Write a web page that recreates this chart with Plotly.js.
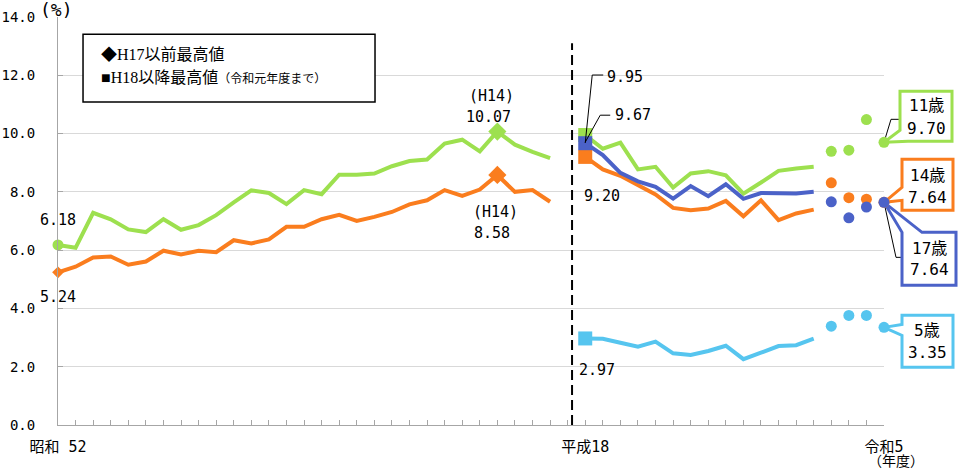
<!DOCTYPE html>
<html><head><meta charset="utf-8">
<script src="https://cdn.plot.ly/plotly-3.0.1.min.js"></script>
<style>html,body{margin:0;padding:0;background:#fff}#chart{width:960px;height:470px}</style>
</head><body><div id="chart"></div>
<script>
// ---------- data ----------
const preYears = [1977,1978,1979,1980,1981,1982,1983,1984,1985,1986,1987,1988,1989,1990,1991,1992,1993,1994,1995,1996,1997,1998,1999,2000,2001,2002,2003,2004,2005];
const age11Pre = [6.18,6.08,7.28,7.06,6.71,6.62,7.06,6.70,6.86,7.20,7.64,8.05,7.96,7.58,8.06,7.92,8.59,8.59,8.63,8.88,9.06,9.11,9.66,9.79,9.39,10.07,9.62,9.37,9.16];
const age14Pre = [5.24,5.43,5.75,5.78,5.50,5.61,5.98,5.85,5.98,5.93,6.34,6.23,6.37,6.80,6.80,7.06,7.21,7.00,7.14,7.31,7.57,7.71,8.06,7.86,8.08,8.58,8.00,8.06,7.66];

const postYears = [2006,2007,2008,2009,2010,2011,2012,2013,2014,2015,2016,2017,2018,2019,2020,2021,2022,2023];
const age11Post = [9.95,9.48,9.69,8.77,8.86,8.15,8.63,8.71,8.57,7.94,8.32,8.72,8.80,8.86,9.39,9.43,10.48,9.70];
const age14Post = [9.20,8.77,8.55,8.23,7.91,7.45,7.37,7.43,7.69,7.16,7.71,7.03,7.26,7.39,8.31,7.80,7.75,7.64];
const age17Post = [9.67,9.26,8.65,8.36,8.17,7.77,8.20,7.85,8.26,7.76,7.96,7.96,7.94,8.00,7.66,7.11,7.48,7.64];
const age5Post  = [2.97,2.96,2.82,2.69,2.86,2.46,2.40,2.54,2.72,2.26,2.48,2.71,2.74,2.96,3.39,3.76,3.76,3.35];

const lastLineYear = 2019;             // lines drawn up to 令和元年度
const tickYears  = [1977, 2006, 2023];
const tickLabels = ['昭和 52', '平成18', '令和5'];
const ageNames = ['11歳', '14歳', '17歳', '5歳'];

// ---------- style ----------
const GREEN = '#9de04f', ORANGE = '#fa7d1e', BLUE = '#4b62c8', LBLUE = '#56c5ef';
const MONO = 'DejaVu Sans Mono, Noto Sans CJK JP, sans-serif';
const SERIF = 'Liberation Serif, Noto Sans CJK JP, serif';
const YMAX = 14;

// category position (one empty slot between 2005 and 2006)
function pos(y){ return y <= 2005 ? y - 1977 : y - 1976; }
const prePos = preYears.map(pos);
const postPos = postYears.map(pos);
const nLine = postYears.filter(y => y <= lastLineYear).length;
const XMAX = pos(postYears[postYears.length - 1]);

const traces = [];
function line(x, y, c){ traces.push({x, y, mode:'lines', line:{color:c, width:4}, hoverinfo:'skip'}); }
function marks(x, y, c, sym, size){ traces.push({x, y, mode:'markers', marker:{color:c, symbol:sym, size, line:{width:0}}, cliponaxis:false, hoverinfo:'skip'}); }

line(prePos, age11Pre, GREEN);
line(prePos, age14Pre, ORANGE);
const postSeries = [[age11Post, GREEN],[age14Post, ORANGE],[age17Post, BLUE],[age5Post, LBLUE]];
postSeries.forEach(([v,c]) => line(postPos.slice(0,nLine), v.slice(0,nLine), c));
postSeries.forEach(([v,c]) => marks(postPos.slice(nLine), v.slice(nLine), c, 'circle', 11));

// start markers
marks([prePos[0]], [age11Pre[0]], GREEN, 'circle', 11);
marks([prePos[0]], [age14Pre[0]], ORANGE, 'diamond', 9);
// pre-H17 peak diamonds
const pk11 = age11Pre.indexOf(Math.max(...age11Pre));
const pk14 = age14Pre.indexOf(Math.max(...age14Pre));
marks([prePos[pk11]], [age11Pre[pk11]], GREEN, 'diamond', 14);
marks([prePos[pk14]], [age14Pre[pk14]], ORANGE, 'diamond', 14);
// post-H18 peak squares (at H18)
postSeries.forEach(([v,c]) => marks([postPos[0]], [v[0]], c, 'square', 14));

// ---------- annotations ----------
const ann = [];
function lab(x, y, text, dx, dy, size){
  ann.push({x, y, xref:'x', yref:'y', text, showarrow:false, xshift:dx, yshift:dy,
    xanchor:'center', yanchor:'middle', font:{family:MONO, size:size||15, color:'#000'}});
}
const f2 = v => v.toFixed(2);
lab(prePos[0], age11Pre[0], f2(age11Pre[0]), 0, 25);
lab(prePos[0], age14Pre[0], f2(age14Pre[0]), 0, -25);
lab(prePos[pk11], age11Pre[pk11], '(H14)', -6, 36, 15);
lab(prePos[pk11], age11Pre[pk11], f2(age11Pre[pk11]), -9, 15);
lab(prePos[pk14], age14Pre[pk14], '(H14)', -2, -37, 15);
lab(prePos[pk14], age14Pre[pk14], f2(age14Pre[pk14]), -5, -58);
lab(postPos[0], age11Post[0], f2(age11Post[0]), 40, 58);
lab(postPos[0], age17Post[0], f2(age17Post[0]), 48, 28);
lab(postPos[0], age14Post[0], f2(age14Post[0]), 17, -39);
lab(postPos[0], age5Post[0], f2(age5Post[0]), 12, -32);

// callouts at the last year
const L = postYears.length - 1, xl = postPos[L];
const callouts = [
  {v:age11Post[L], c:GREEN, name:ageNames[0], path:'M0,0 L16,12 L16,51 L68,51 L68,1 L24,1 Z', t:[42,37], b:[42,14], lead:'M0,0 L7,23 L16,23'},
  {v:age14Post[L], c:ORANGE, name:ageNames[1], path:'M0,0 L18,15 L18,43 L69,43 L69,-8 L18,-8 L18,2 Z', t:[43,27], b:[43,5]},
  {v:age17Post[L], c:BLUE, name:ageNames[2], path:'M0,0 L18,-30 L18,-83 L72,-83 L72,-30 L38,-30 Z', t:[45,-46], b:[45,-67], lead:'M0,0 L12,-55 L18,-55'},
  {v:age5Post[L], c:LBLUE, name:ageNames[3], path:'M0,0 L18,3 L18,12 L69,12 L69,-40 L18,-40 L18,-8 Z', t:[43,-3], b:[43,-25]}
];
const shapes = [];
// vertical dashed divider in the empty slot
shapes.push({type:'line', xref:'x', yref:'y', x0:pos(2005)+1.25, x1:pos(2005)+1.25, y0:0, y1:13.1,
  line:{color:'#000', width:2, dash:'10px,5px'}, layer:'above'});
// legend box
shapes.push({type:'rect', xref:'paper', yref:'paper', x0:0.0303, x1:0.3838, y0:0.7918, y1:0.9576,
  line:{color:'#000', width:1.5}, fillcolor:'#fff', layer:'above'});
// leader lines for H18 labels
shapes.push({type:'path', xref:'x', yref:'y', xsizemode:'pixel', ysizemode:'pixel', xanchor:postPos[0], yanchor:age11Post[0],
  path:'M0,-8 L7,60 L18,60', line:{color:'#000', width:1}, layer:'above'});
shapes.push({type:'path', xref:'x', yref:'y', xsizemode:'pixel', ysizemode:'pixel', xanchor:postPos[0], yanchor:age17Post[0],
  path:'M0,1 L15,28 L25,28', line:{color:'#000', width:1}, layer:'above'});
// callouts (paper-referenced so they are not clipped to the plot area)
callouts.forEach(co => {
  const ax = xl / XMAX, ay = co.v / YMAX;
  if(co.lead) shapes.push({type:'path', xref:'paper', yref:'paper', xsizemode:'pixel', ysizemode:'pixel', xanchor:ax, yanchor:ay,
    path:co.lead, line:{color:'#000', width:1}, layer:'below'});
  shapes.push({type:'path', xref:'paper', yref:'paper', xsizemode:'pixel', ysizemode:'pixel', xanchor:ax, yanchor:ay,
    path:co.path, line:{color:co.c, width:3}, fillcolor:'#fff', layer:'below'});
  lab(xl, co.v, co.name, co.t[0], co.t[1], 16);
  lab(xl, co.v, f2(co.v), co.b[0], co.b[1], 16);
});

// legend text
ann.push({xref:'paper', yref:'paper', x:0.0496, y:0.9086, xanchor:'left', yanchor:'middle', showarrow:false,
  text:'◆H17以前最高値', font:{family:SERIF, size:16, color:'#000'}});
ann.push({xref:'paper', yref:'paper', x:0.0496, y:0.8523, xanchor:'left', yanchor:'middle', showarrow:false,
  text:'■H18以降最高値<span style="font-size:12px">（令和元年度まで）</span>', font:{family:SERIF, size:16, color:'#000'}});
// unit labels
ann.push({xref:'paper', yref:'paper', x:-0.0024, y:1.0188, xanchor:'center', yanchor:'middle', showarrow:false,
  text:'(%)', font:{family:MONO, size:18, color:'#000'}});
ann.push({xref:'paper', yref:'paper', x:1.0145, y:-0.089, xanchor:'center', yanchor:'middle', showarrow:false,
  text:'（年度）', font:{family:MONO, size:14, color:'#000'}});

// ticks
const tickvals = [], ticktext = [];
for(let p = 0; p <= XMAX; p++){
  tickvals.push(p);
  let t = '';
  tickYears.forEach((y,i) => { if(pos(y) === p) t = tickLabels[i]; });
  ticktext.push(t);
}

const layout = {
  width:960, height:470,
  margin:{l:58, r:76, t:17, b:45, pad:0},
  paper_bgcolor:'#fff', plot_bgcolor:'#fff',
  showlegend:false,
  font:{family:MONO, size:15, color:'#000'},
  xaxis:{range:[0, XMAX], tickmode:'array', tickvals, ticktext, ticks:'inside', ticklen:5,
    tickcolor:'#a6a6a6', showline:true, linecolor:'#a6a6a6', linewidth:1, showgrid:false, zeroline:false,
    tickangle:0, ticklabelstandoff:8, tickfont:{family:MONO, size:15, color:'#000'}},
  yaxis:{range:[0, YMAX], tick0:0, dtick:2, tickformat:'.1f', ticks:'inside', ticklen:5, tickcolor:'#a6a6a6',
    showline:true, linecolor:'#a6a6a6', linewidth:1, gridcolor:'#d9d9d9', gridwidth:1, zeroline:false,
    ticklabelstandoff:19, tickfont:{family:MONO, size:14, color:'#000'}},
  shapes, annotations:ann
};
Plotly.newPlot('chart', traces, layout, {staticPlot:true, displayModeBar:false});
</script></body></html>
